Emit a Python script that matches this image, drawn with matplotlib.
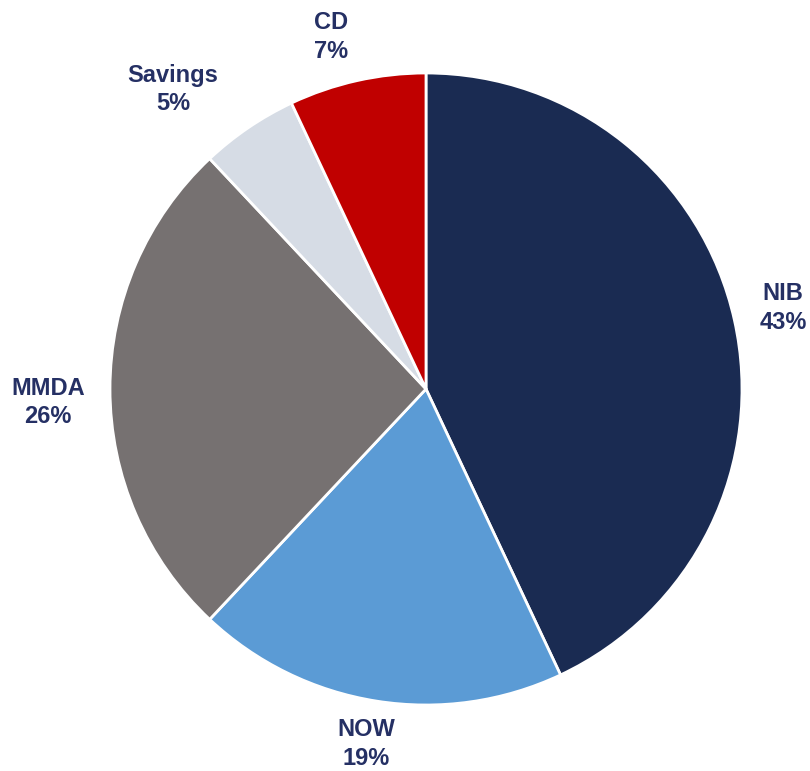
import numpy as np
import matplotlib.pyplot as plt

categories = ["NIB", "NOW", "MMDA", "Savings", "CD"]
shares = [43, 19, 26, 5, 7]
colors = ["#1A2B52", "#5B9BD5", "#767171", "#D6DCE5", "#C00000"]
label_dist = [1.158, 1.14, 1.197, 1.24, 1.154]
label_shift = [0.2, -0.6, 2.0, 6.0, 2.5]  # degrees, nudges labels off the wedge mid-angle

plt.rcParams['font.family'] = ['Liberation Sans', 'DejaVu Sans']

fig = plt.figure(figsize=(8.1, 7.71), dpi=100)
ax = fig.add_axes([0, 0, 1, 1])

wedges, _ = ax.pie(shares, colors=colors, startangle=90, counterclock=False,
                   radius=1.0,
                   wedgeprops=dict(edgecolor="white", linewidth=2))

for w, name, val, d, s in zip(wedges, categories, shares, label_dist, label_shift):
    ang = np.deg2rad((w.theta1 + w.theta2) / 2 + s)
    ax.text(d * np.cos(ang), d * np.sin(ang), "{}\n{}%".format(name, val),
            ha="center", va="center", fontsize=17, fontweight="bold",
            color="#253064", linespacing=1.3)

ax.set_xlim(-426 / 316, 384 / 316)
ax.set_ylim(-382 / 316, 389 / 316)
ax.set_aspect("equal")
ax.axis("off")

fig.savefig("out.png", dpi=100)
